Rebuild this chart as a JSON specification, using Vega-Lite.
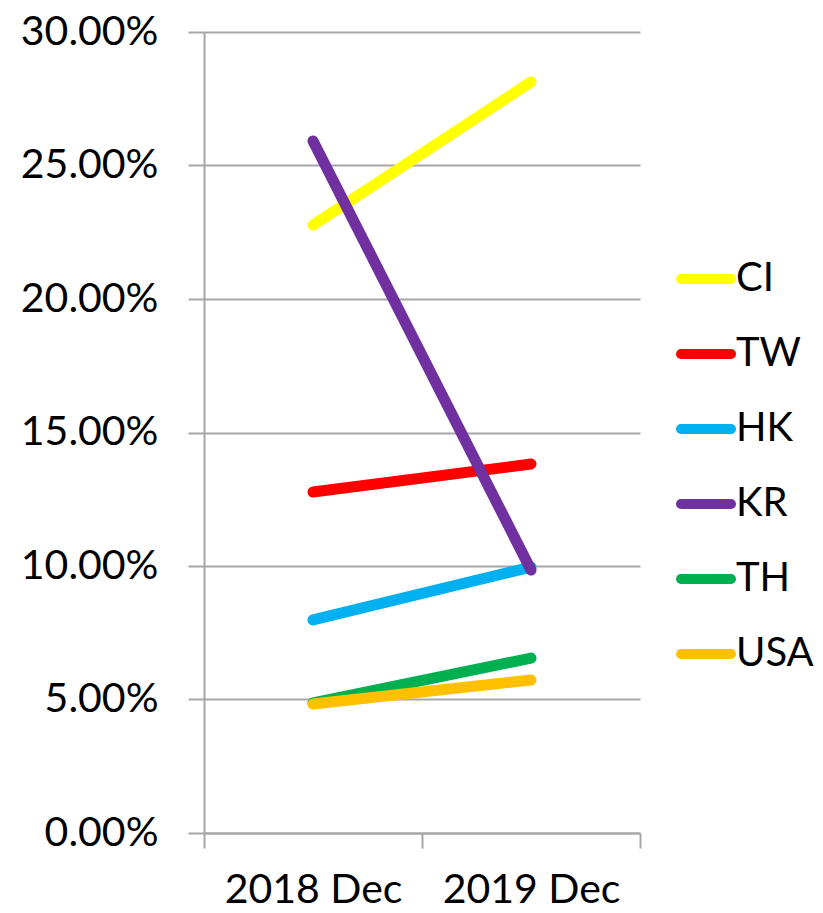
{
  "$schema": "https://vega.github.io/schema/vega-lite/v6.json",
  "autosize": "none",
  "width": 436,
  "height": 801,
  "padding": {"left": 204, "top": 32, "right": 183, "bottom": 80},
  "background": "white",
  "config": {
    "font": "Lato",
    "view": {"stroke": null}
  },
  "data": {
    "values": [
      {"period": "2018 Dec", "series": "CI", "value": 0.2277},
      {"period": "2019 Dec", "series": "CI", "value": 0.2813},
      {"period": "2018 Dec", "series": "TW", "value": 0.1277},
      {"period": "2019 Dec", "series": "TW", "value": 0.1382},
      {"period": "2018 Dec", "series": "HK", "value": 0.0798},
      {"period": "2019 Dec", "series": "HK", "value": 0.0996},
      {"period": "2018 Dec", "series": "KR", "value": 0.2592},
      {"period": "2019 Dec", "series": "KR", "value": 0.0985},
      {"period": "2018 Dec", "series": "TH", "value": 0.0487},
      {"period": "2019 Dec", "series": "TH", "value": 0.0655},
      {"period": "2018 Dec", "series": "USA", "value": 0.0483},
      {"period": "2019 Dec", "series": "USA", "value": 0.0573}
    ]
  },
  "mark": {"type": "line", "strokeWidth": 11, "strokeCap": "round"},
  "encoding": {
    "x": {
      "field": "period",
      "type": "nominal",
      "title": null,
      "scale": {"type": "band", "paddingInner": 0, "paddingOuter": 0},
      "axis": {
        "labelAngle": 0,
        "labelFontSize": 41,
        "labelColor": "black",
        "labelPadding": 22,
        "tickBand": "extent",
        "tickSize": 15,
        "tickColor": "#A6A6A6",
        "tickWidth": 2,
        "domainColor": "#A6A6A6",
        "domainWidth": 2,
        "grid": false
      }
    },
    "y": {
      "field": "value",
      "type": "quantitative",
      "title": null,
      "scale": {"domain": [0, 0.3], "nice": false},
      "axis": {
        "values": [0, 0.05, 0.1, 0.15, 0.2, 0.25, 0.3],
        "format": ".2%",
        "labelFontSize": 41,
        "labelColor": "black",
        "labelPadding": 30,
        "tickSize": 16,
        "tickColor": "#A6A6A6",
        "tickWidth": 2,
        "domainColor": "#A6A6A6",
        "domainWidth": 2,
        "grid": true,
        "gridColor": "#A6A6A6",
        "gridWidth": 2
      }
    },
    "color": {
      "field": "series",
      "type": "nominal",
      "title": null,
      "scale": {
        "domain": ["CI", "TW", "HK", "KR", "TH", "USA"],
        "range": ["#FFFF00", "#FF0000", "#00B0F0", "#7030A0", "#00B050", "#FFC000"]
      },
      "legend": {
        "orient": "none",
        "legendX": 472,
        "legendY": 217,
        "symbolType": "stroke",
        "symbolSize": 2500,
        "symbolStrokeWidth": 10,
        "labelFontSize": 40,
        "labelColor": "black",
        "labelOffset": 0,
        "rowPadding": 25,
        "encode": {"symbols": {"update": {"strokeCap": {"value": "round"}}}}
      }
    }
  }
}
